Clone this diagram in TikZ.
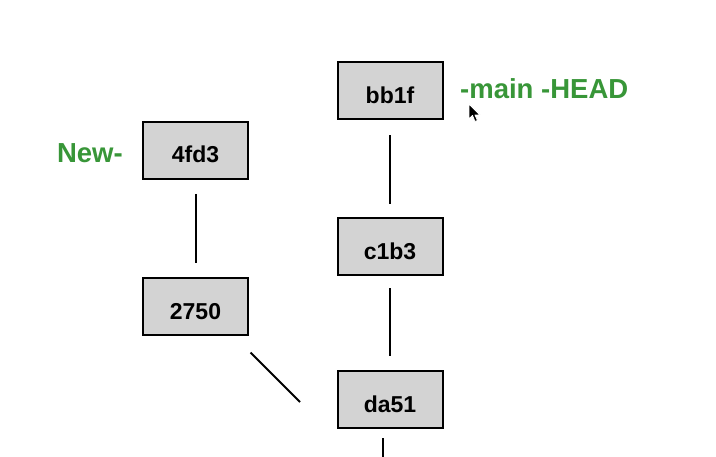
\documentclass[tikz,border=0pt]{standalone}
\usepackage{fontspec}
\setmainfont{Liberation Sans}
\usetikzlibrary{calc}
\definecolor{boxgray}{RGB}{211,211,211}
\definecolor{labgreen}{RGB}{56,150,56}
\newcommand{\lowtxt}[1]{\raisebox{-4pt}[\height][0pt]{#1}}
\tikzset{
  commit/.style={draw=black, line width=2pt, fill=boxgray, minimum width=105pt, minimum height=57pt, inner sep=0pt, font=\fontsize{23}{25}\selectfont\bfseries},
  edge/.style={draw=black, line width=2pt},
  lab/.style={text=labgreen, font=\fontsize{27.5}{30}\selectfont\bfseries, inner sep=0pt}
}
\begin{document}
\begin{tikzpicture}[x=1pt,y=-1pt]
\useasboundingbox (0,0) rectangle (716,457);
\fill[white] (0,0) rectangle (716,457);
\node[commit] (bb1f) at (390,91) {\lowtxt{bb1f}};
\node[commit] (c1b3) at (390,247) {\lowtxt{c1b3}};
\node[commit] (da51) at (390,400) {\lowtxt{da51}};
\node[commit] (4fd3) at (195.5,150.5) {\lowtxt{4fd3}};
\node[commit] (2750) at (195.5,307) {\lowtxt{2750}};
\node[lab, anchor=west] (mainhead) at (460,89) {-main -HEAD};
\node[lab, anchor=east] (new) at (123,153) {New-};
\draw[edge, shorten <=15pt, shorten >=13pt] (bb1f) -- (c1b3);
\draw[edge, shorten <=14pt, shorten >=14pt] (4fd3) -- (2750);
\draw[edge, shorten <=12pt, shorten >=14pt] (c1b3) -- (da51);
\coordinate (d1) at ($(2750.south east)+(1.5,16)$);
\coordinate (d2) at ($(da51.west)+(-36.5,2)$);
\draw[edge] (d1) -- (d2);
\coordinate (b1) at ($(da51.south)+(-7,9)$);
\coordinate (b2) at ($(da51.south)+(-7,40)$);
\draw[edge] (b1) -- (b2);
% mouse cursor
\filldraw[fill=black, draw=white, line width=0.8pt, line join=round]
  (469,104) -- ++(0,15) -- ++(3.5,-3.5) -- ++(2.5,6) -- ++(2.5,-1) -- ++(-2.5,-5.5) -- ++(5,0) -- cycle;
\end{tikzpicture}
\end{document}
